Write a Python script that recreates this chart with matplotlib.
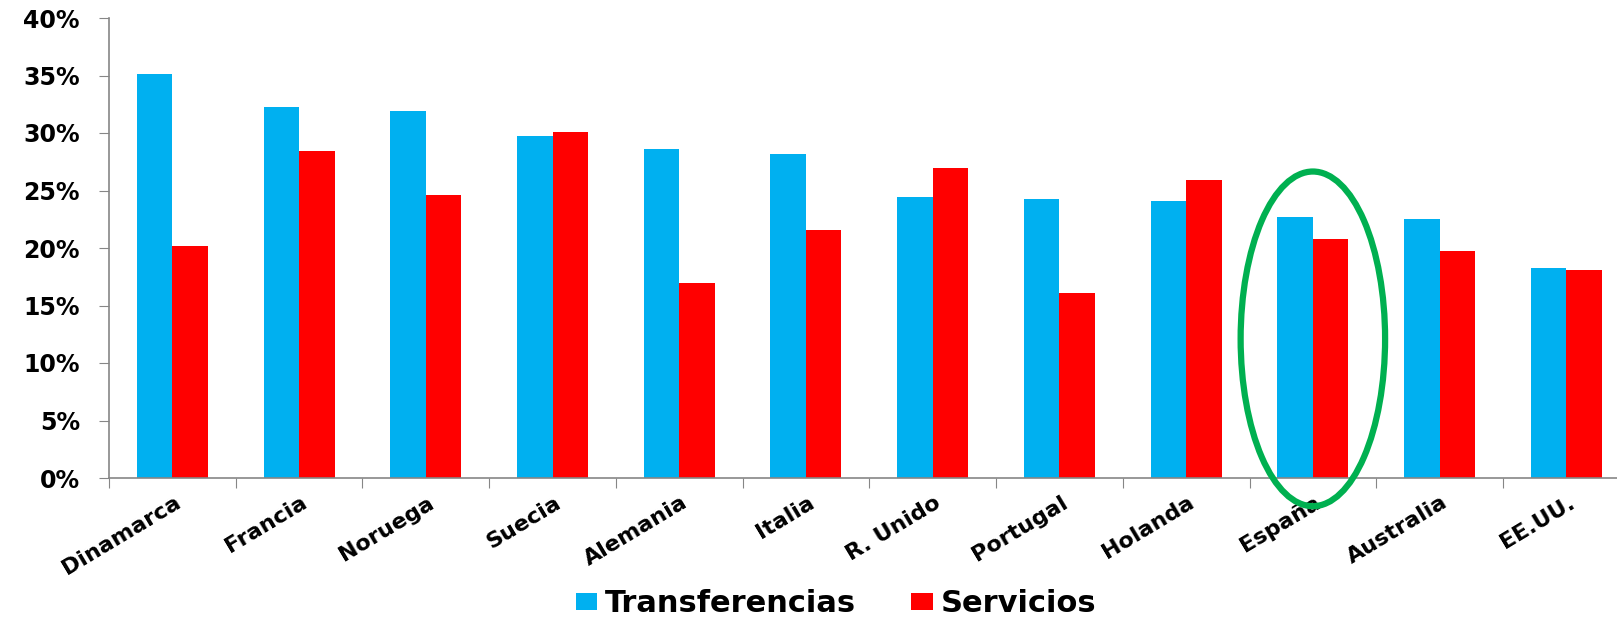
import matplotlib
matplotlib.use("Agg")
import matplotlib.pyplot as plt
import numpy as np
from matplotlib.patches import Ellipse
from matplotlib.ticker import FixedLocator, PercentFormatter

paises = ["Dinamarca", "Francia", "Noruega", "Suecia", "Alemania", "Italia",
          "R. Unido", "Portugal", "Holanda", "España", "Australia", "EE.UU."]
transferencias = [35.1, 32.3, 31.9, 29.7, 28.6, 28.2, 24.4, 24.3, 24.1, 22.7, 22.5, 18.3]
servicios = [20.2, 28.4, 24.6, 30.1, 17.0, 21.6, 27.0, 16.1, 25.9, 20.8, 19.7, 18.1]

AZUL = "#00B0F0"
ROJO = "#FF0000"
VERDE = "#00B050"
GRIS = "#868686"

plt.rcParams["font.family"] = "DejaVu Sans"
plt.rcParams["font.weight"] = "bold"

fig = plt.figure(figsize=(16.17, 6.17), dpi=100)
ax = fig.add_axes([109 / 1617, 1 - 478 / 617, 1 - 109 / 1617, 460 / 617])

x = np.arange(len(paises))
w = 0.28
ax.bar(x - w / 2, transferencias, w, color=AZUL, label="Transferencias")
ax.bar(x + w / 2, servicios, w, color=ROJO, label="Servicios")

ax.set_xlim(-0.5, 11.4)
ax.set_ylim(0, 40)
ax.set_yticks(np.arange(0, 41, 5))
ax.yaxis.set_major_formatter(PercentFormatter(decimals=0))
ax.tick_params(axis="y", length=7, color=GRIS, pad=14, labelsize=17)

# separadores entre grupos en el eje x
ax.xaxis.set_major_locator(FixedLocator(np.arange(-0.5, 12, 1)))
ax.set_xticklabels([])
ax.tick_params(axis="x", length=7, color=GRIS)

for s in ("top", "right"):
    ax.spines[s].set_visible(False)
for s in ("left", "bottom"):
    ax.spines[s].set_color(GRIS)
    ax.spines[s].set_linewidth(1.2)

for i, p in enumerate(paises):
    ax.text(i + 0.05, -0.05, p, transform=ax.get_xaxis_transform(),
            rotation=31, rotation_mode="anchor", ha="right", va="center",
            fontsize=16, fontweight="bold")

# resaltar España
ax.add_patch(Ellipse((9, 12.1), 1.14, 29.1, fill=False, edgecolor=VERDE,
                     linewidth=4.5, clip_on=False, zorder=5))

fig.legend(loc="center", bbox_to_anchor=(836 / 1617, 1 - 604 / 617), ncol=2,
           frameon=False, fontsize=22, handlelength=0.7, handleheight=0.5,
           handletextpad=0.25, columnspacing=1.8)

fig.savefig("out.png", dpi=100)
